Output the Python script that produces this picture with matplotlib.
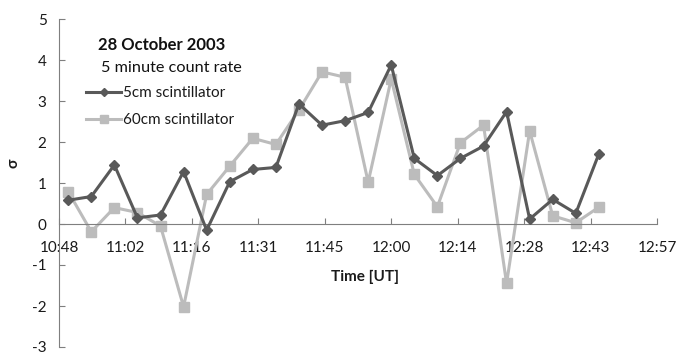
import matplotlib
matplotlib.use("Agg")
import matplotlib.pyplot as plt

# sample times (UT) and sigma values for the two detectors
times = ["10:50", "10:55", "11:00", "11:05", "11:10", "11:15", "11:20", "11:25",
         "11:30", "11:35", "11:40", "11:45", "11:50", "11:55", "12:00", "12:05",
         "12:10", "12:15", "12:20", "12:25", "12:30", "12:35", "12:40", "12:45"]
sigma_5cm = [0.58, 0.67, 1.44, 0.15, 0.22, 1.28, -0.15, 1.03,
             1.33, 1.38, 2.93, 2.41, 2.52, 2.72, 3.88, 1.60,
             1.18, 1.60, 1.90, 2.74, 0.12, 0.60, 0.26, 1.71]
sigma_60cm = [0.79, -0.19, 0.40, 0.28, -0.05, -2.02, 0.72, 1.41,
              2.09, 1.94, 2.78, 3.71, 3.58, 1.02, 3.54, 1.21,
              0.42, 1.98, 2.41, -1.45, 2.27, 0.20, 0.03, 0.41]
tick_labels = ["10:48", "11:02", "11:16", "11:31", "11:45",
               "12:00", "12:14", "12:28", "12:43", "12:57"]

plt.rcParams["font.family"] = ["Lato", "DejaVu Sans"]
plt.rcParams["axes.unicode_minus"] = False


def minutes(t):
    # minutes after 10:48
    h, m = t.split(":")
    return int(h) * 60 + int(m) - (10 * 60 + 48)


x = [minutes(t) for t in times]
tick_pos = [i * 14.4 for i in range(len(tick_labels))]

dark = "#595959"
light = "#bcbcbc"
txt = "#1a1a1a"

fig = plt.figure(figsize=(6.76, 3.52), dpi=100)
ax = fig.add_axes([59 / 676, 5 / 352, 598 / 676, 328 / 352])

ax.plot(x, sigma_5cm, color=dark, linewidth=2.2, marker="D", markersize=5.5,
        label="5cm scintillator", zorder=3)
ax.plot(x, sigma_60cm, color=light, linewidth=2.2, marker="s", markersize=7,
        label="60cm scintillator", zorder=2)

ax.set_xlim(0, tick_pos[-1])
ax.set_ylim(-3, 5)

ax.spines["top"].set_visible(False)
ax.spines["right"].set_visible(False)
ax.spines["bottom"].set_position(("data", 0))
ax.spines["left"].set_color("#7f7f7f")
ax.spines["bottom"].set_color("#7f7f7f")

ax.set_xticks(tick_pos)
ax.set_xticklabels(tick_labels)
ax.set_yticks(range(-3, 6))
ax.tick_params(axis="x", direction="in", length=4, color="#7f7f7f",
               labelsize=11, pad=12, labelcolor=txt)
ax.tick_params(axis="y", direction="in", length=4, color="#7f7f7f",
               labelsize=11, pad=9, labelcolor=txt)

fig.text(365 / 676, 1 - 277 / 352, "Time [UT]", ha="center", va="center",
         fontsize=11, fontweight="bold", color=txt)
fig.text(13 / 676, 1 - 163 / 352, "σ", ha="center", va="center",
         rotation=90, fontsize=11, fontweight="bold", color=txt)

fig.text(98 / 676, 1 - 45 / 352, "28 October 2003", ha="left", va="center",
         fontsize=12, fontweight="bold", color="#111111")
fig.text(101 / 676, 1 - 68 / 352, "5 minute count rate", ha="left", va="center",
         fontsize=11.7, color="#111111")

ax.legend(loc="upper left", bbox_to_anchor=(86 / 676, 1 - 86 / 352),
          bbox_transform=fig.transFigure, frameon=False, fontsize=11,
          handlelength=2.3, handletextpad=0.15, labelspacing=0.85,
          borderaxespad=0, borderpad=0, labelcolor=txt, markerscale=0.8)

plt.savefig("out.png", dpi=100)
